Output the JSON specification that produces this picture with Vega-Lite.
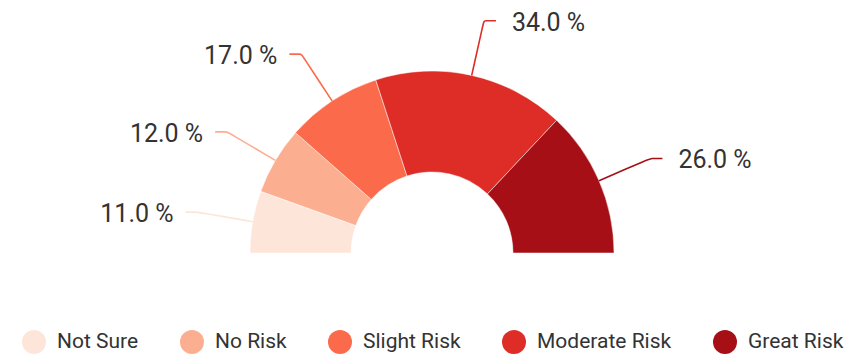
{
  "$schema": "https://vega.github.io/schema/vega-lite/v6.json",
  "width": 859,
  "height": 355,
  "padding": 0,
  "autosize": {"type": "none"},
  "background": "white",
  "config": {"view": {"stroke": null}, "font": "Roboto"},
  "data": {
    "values": [
      {"risk": "Not Sure", "pct": 11},
      {"risk": "No Risk", "pct": 12},
      {"risk": "Slight Risk", "pct": 17},
      {"risk": "Moderate Risk", "pct": 34},
      {"risk": "Great Risk", "pct": 26}
    ]
  },
  "transform": [
    {"window": [{"op": "row_number", "as": "i"}, {"op": "sum", "field": "pct", "as": "cum"}], "frame": [null, 0]},
    {"joinaggregate": [{"op": "sum", "field": "pct", "as": "tot"}]},
    {"calculate": "PI - (datum.cum - datum.pct / 2) / datum.tot * PI", "as": "ang"},
    {"calculate": "format(datum.pct, '.1f') + ' %'", "as": "lab"},
    {"calculate": "238 * cos(datum.ang) + (cos(datum.ang) < 0 ? -12 : 12)", "as": "cx"},
    {"calculate": "238 * sin(datum.ang)", "as": "cy"}
  ],
  "layer": [
    {
      "mark": {"type": "arc", "outerRadius": 182, "innerRadius": 81, "stroke": "#ffffff", "strokeWidth": 0.5},
      "encoding": {
        "x": {"datum": 0, "type": "quantitative", "scale": {"domain": [-432, 427], "nice": false, "zero": false}, "axis": null},
        "y": {"datum": 0, "type": "quantitative", "scale": {"domain": [-102, 253], "nice": false, "zero": false}, "axis": null},
        "theta": {"field": "pct", "type": "quantitative", "stack": true, "scale": {"range": [-1.5707963268, 1.5707963268]}},
        "order": {"field": "i", "type": "quantitative"},
        "color": {
          "field": "risk",
          "type": "nominal",
          "sort": ["Not Sure", "No Risk", "Slight Risk", "Moderate Risk", "Great Risk"],
          "scale": {
            "domain": ["Not Sure", "No Risk", "Slight Risk", "Moderate Risk", "Great Risk"],
            "range": ["#fee5d9", "#fcae91", "#fb6a4a", "#de2d26", "#a50f15"]
          },
          "legend": {
            "orient": "none",
            "legendX": 22,
            "legendY": 330,
            "direction": "horizontal",
            "title": null,
            "symbolType": "circle",
            "symbolSize": 576,
            "symbolStrokeWidth": 0,
            "labelFontSize": 21,
            "labelFont": "Roboto",
            "labelColor": "#333333",
            "labelOffset": 11,
            "columnPadding": 41,
            "padding": 0
          }
        }
      }
    },
    {
      "transform": [
        {"calculate": "[0, 1, 1, 2]", "as": "k"},
        {"flatten": ["k"]},
        {"calculate": "datum.k == 0 ? 182 * cos(datum.ang) : (datum.k == 1 ? 238 * cos(datum.ang) : datum.cx)", "as": "px"},
        {"calculate": "datum.k == 0 ? 182 * sin(datum.ang) : 238 * sin(datum.ang)", "as": "py"}
      ],
      "mark": {"type": "line", "interpolate": "basis", "strokeWidth": 1.6},
      "encoding": {
        "x": {"field": "px", "type": "quantitative", "axis": null},
        "y": {"field": "py", "type": "quantitative", "axis": null},
        "order": {"field": "k", "type": "quantitative"},
        "detail": {"field": "risk", "type": "nominal"},
        "color": {"field": "risk", "type": "nominal", "legend": null}
      }
    },
    {
      "transform": [{"filter": "cos(datum.ang) >= 0"}],
      "mark": {"type": "text", "align": "left", "baseline": "middle", "dx": 16, "dy": 2, "fontSize": 25, "color": "#333333", "font": "Roboto"},
      "encoding": {
        "x": {"field": "cx", "type": "quantitative", "axis": null},
        "y": {"field": "cy", "type": "quantitative", "axis": null},
        "text": {"field": "lab", "type": "nominal"}
      }
    },
    {
      "transform": [{"filter": "cos(datum.ang) < 0"}],
      "mark": {"type": "text", "align": "right", "baseline": "middle", "dx": -12, "dy": 2, "fontSize": 25, "color": "#333333", "font": "Roboto"},
      "encoding": {
        "x": {"field": "cx", "type": "quantitative", "axis": null},
        "y": {"field": "cy", "type": "quantitative", "axis": null},
        "text": {"field": "lab", "type": "nominal"}
      }
    }
  ]
}
